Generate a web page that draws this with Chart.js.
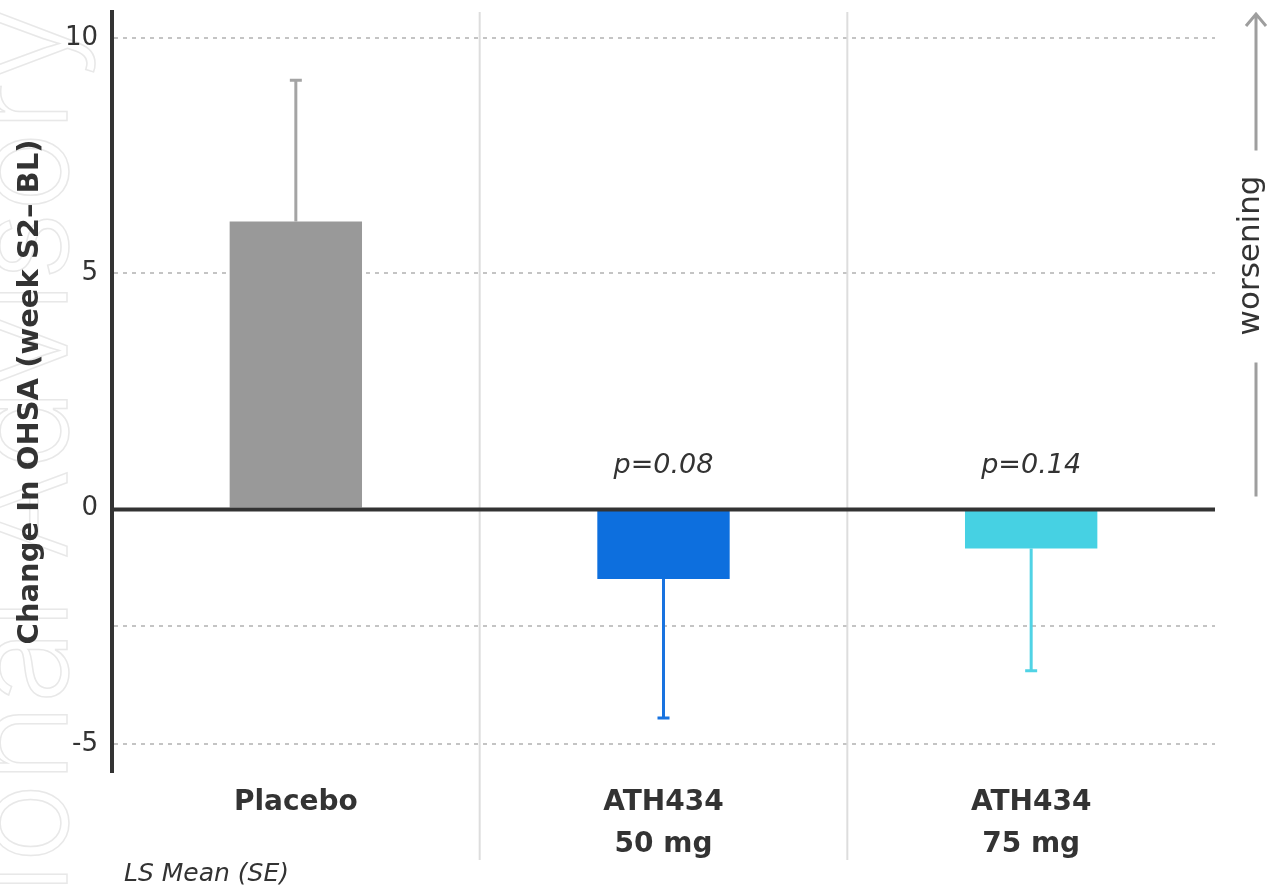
<!DOCTYPE html>
<html>
<head>
<meta charset="utf-8">
<script src="https://cdn.jsdelivr.net/npm/chart.js@4"></script>
<style>
  html, body { margin: 0; background: #fff; }
  #wrap { width: 1268px; height: 888px; position: relative; }
</style>
</head>
<body>
<div id="wrap"><canvas id="chart"></canvas></div>
<script>
// values
const groups = [["Placebo"], ["ATH434", "50 mg"], ["ATH434", "75 mg"]];
const lsMean = [6.1, -1.5, -0.85];
const se = [3.0, 2.95, 2.6];
const pValues = ["", "p=0.08", "p=0.14"];
const yTicks = [-5, -2.5, 0, 5, 10];
const yTickLabels = ["-5", "", "0", "5", "10"];

const barColors = ["#999999", "#0d6fde", "#46d1e3"];
const whiskerColors = ["#a4a4a4", "#1873e0", "#50d3e5"];
const FONT = "'DejaVu Sans', 'Open Sans', sans-serif";
const INK = "#333333";

const watermark = {
  id: "watermark",
  beforeDraw(chart) {
    const ctx = chart.ctx;
    ctx.save();
    ctx.translate(67, 6);
    ctx.rotate(-Math.PI / 2);
    ctx.font = "300 135px Inter, sans-serif";
    ctx.textAlign = "right";
    ctx.textBaseline = "alphabetic";
    ctx.strokeStyle = "#e8e8e8";
    ctx.lineWidth = 1.5;
    ctx.strokeText("Promotional Advisory", 0, 0);
    ctx.restore();
  },
};

const separators = {
  id: "separators",
  beforeDatasetsDraw(chart) {
    const { ctx, chartArea, scales: { x } } = chart;
    ctx.save();
    ctx.strokeStyle = "#dddddd";
    ctx.lineWidth = 2;
    for (let i = 0; i < groups.length - 1; i++) {
      const px = (x.getPixelForValue(i) + x.getPixelForValue(i + 1)) / 2;
      ctx.beginPath();
      ctx.moveTo(px, chartArea.top);
      ctx.lineTo(px, chartArea.bottom + 88);
      ctx.stroke();
    }
    ctx.restore();
  },
};

const errorBars = {
  id: "errorBars",
  afterDatasetsDraw(chart) {
    const { ctx, chartArea, scales: { x, y } } = chart;
    ctx.save();
    lsMean.forEach((m, i) => {
      const px = x.getPixelForValue(i);
      const tip = m >= 0 ? m + se[i] : m - se[i];
      const y1 = y.getPixelForValue(m);
      const y2 = y.getPixelForValue(tip);
      ctx.strokeStyle = whiskerColors[i];
      ctx.lineWidth = 3;
      ctx.beginPath();
      ctx.moveTo(px, y1);
      ctx.lineTo(px, y2);
      ctx.moveTo(px - 6, y2);
      ctx.lineTo(px + 6, y2);
      ctx.stroke();
    });
    // zero line
    const y0 = y.getPixelForValue(0);
    ctx.strokeStyle = INK;
    ctx.lineWidth = 4;
    ctx.beginPath();
    ctx.moveTo(chartArea.left, y0 + 1);
    ctx.lineTo(chartArea.right, y0 + 1);
    ctx.stroke();

    // p values
    ctx.fillStyle = INK;
    ctx.font = "oblique 27px " + FONT;
    ctx.textAlign = "center";
    ctx.textBaseline = "middle";
    pValues.forEach((p, i) => {
      if (p) ctx.fillText(p, x.getPixelForValue(i), y0 - 42);
    });

    // footnote
    ctx.font = "oblique 25px " + FONT;
    ctx.textAlign = "left";
    ctx.fillText("LS Mean (SE)", chartArea.left + 12, chart.height - 14);

    // worsening arrow
    const ax = chartArea.right + 41;
    ctx.strokeStyle = "#9e9e9e";
    ctx.lineWidth = 3;
    ctx.beginPath();
    ctx.moveTo(ax, y0 - 12);
    ctx.lineTo(ax, y0 - 146);
    ctx.moveTo(ax, y0 - 358);
    ctx.lineTo(ax, chartArea.top + 2);
    ctx.moveTo(ax - 10, chartArea.top + 14);
    ctx.lineTo(ax, chartArea.top + 2);
    ctx.lineTo(ax + 10, chartArea.top + 14);
    ctx.stroke();
    ctx.save();
    ctx.translate(ax - 5, y0 - 253);
    ctx.rotate(-Math.PI / 2);
    ctx.font = "31px " + FONT;
    ctx.textAlign = "center";
    ctx.textBaseline = "middle";
    ctx.fillText("worsening", 0, 0);
    ctx.restore();
    ctx.restore();
  },
};

new Chart(document.getElementById("chart"), {
  type: "bar",
  data: {
    labels: groups,
    datasets: [{
      data: lsMean,
      backgroundColor: barColors,
      barPercentage: 0.36,
      categoryPercentage: 1.0,
    }],
  },
  options: {
    responsive: true,
    maintainAspectRatio: false,
    animation: false,
    layout: { padding: { left: 0, right: 53, top: 12, bottom: 0 } },
    plugins: { legend: { display: false }, tooltip: { enabled: false } },
    scales: {
      x: {
        grid: { display: false },
        border: { display: false },
        ticks: {
          color: INK,
          padding: 2,
          font: { family: FONT, size: 28, weight: "bold", lineHeight: 1.5 },
        },
        afterFit(s) { s.height = 116; },
      },
      y: {
        min: -5.6,
        max: 10.55,
        afterBuildTicks(s) { s.ticks = yTicks.map((v) => ({ value: v })); },
        afterFit(s) { s.width = 112; s.paddingTop = 0; s.paddingBottom = 0; },
        grid: {
          drawTicks: false,
          lineWidth: 2,
          color: (c) => (c.tick && c.tick.value === 0 ? "rgba(0,0,0,0)" : "#c4c4c4"),
        },
        border: { display: true, color: INK, width: 4, dash: [4, 5] },
        ticks: {
          color: INK,
          padding: 14,
          font: { family: FONT, size: 26 },
          callback: (v) => yTickLabels[yTicks.indexOf(v)],
        },
        title: {
          display: true,
          text: "Change In OHSA (week S2– BL)",
          color: INK,
          font: { family: FONT, size: 29, weight: "bold" },
          padding: { top: 13, bottom: 0 },
        },
      },
    },
  },
  plugins: [watermark, separators, errorBars],
});
</script>
</body>
</html>
